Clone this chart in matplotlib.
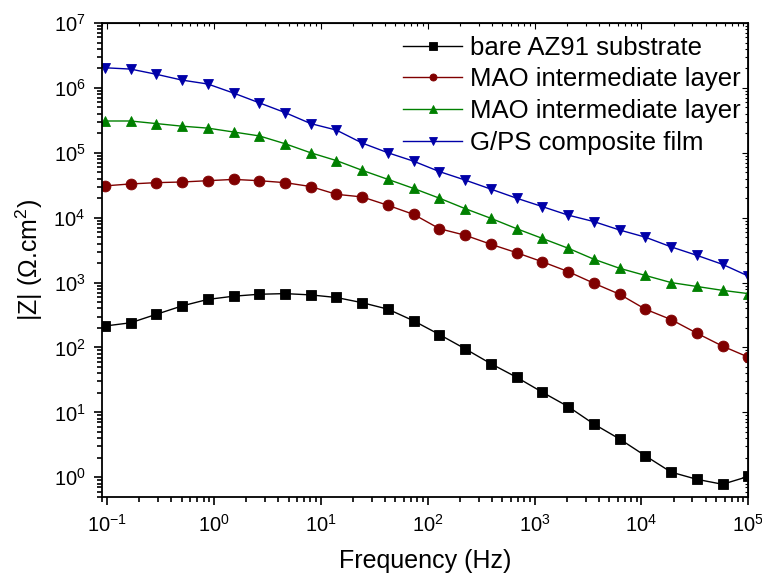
import matplotlib
matplotlib.use("Agg")
import matplotlib.pyplot as plt
import matplotlib.ticker as mticker

plt.rcParams["font.family"] = ["Liberation Sans", "DejaVu Sans"]
plt.rcParams["mathtext.fontset"] = "custom"
plt.rcParams["mathtext.rm"] = "Liberation Sans"
plt.rcParams["mathtext.it"] = "Liberation Sans:italic"
plt.rcParams["axes.unicode_minus"] = False

# frequency points (Hz), high to low
freq = [1.0e5, 5.74e4, 3.30e4, 1.897e4, 1.089e4, 6.25e3, 3.59e3, 2.06e3, 1.186e3,
        681, 391, 224, 129, 74.1, 42.6, 24.4, 14.0, 8.05, 4.63, 2.66, 1.53,
        0.877, 0.504, 0.289, 0.166, 0.0955]

# |Z| values (ohm.cm^2), same order as freq
z_bare = [1.03, 0.78, 0.93, 1.20, 2.14, 3.89, 6.61, 12.3, 20.4,
          34.7, 56.2, 95.5, 158, 257, 389, 490, 589, 646,
          676, 661, 617, 550, 437, 324, 240, 214]
z_mao1 = [71, 105, 166, 269, 389, 661, 977, 1479, 2089,
          2884, 3890, 5370, 6761, 11220, 15490, 20890, 22910, 30200,
          34670, 37150, 38900, 37150, 35480, 34670, 33110, 30900]
z_mao2 = [676, 759, 871, 1000, 1288, 1660, 2291, 3388, 4786,
          6761, 9772, 13800, 19950, 28180, 38900, 53700, 75860, 100000,
          138000, 182000, 209000, 240000, 257000, 282000, 309000, 309000]
z_gps = [1260, 1910, 2630, 3550, 5010, 6460, 8710, 10960, 14800,
         19950, 27540, 38020, 51290, 74130, 100000, 141300, 223900, 281800,
         416900, 588800, 831800, 1148000, 1318000, 1622000, 1950000, 2042000]

labels = ["bare AZ91 substrate", "MAO intermediate layer",
          "MAO intermediate layer", "G/PS composite film"]
colors = ["#000000", "#800000", "#008000", "#0000a8"]
markers = ["s", "o", "^", "v"]


def log_locators(axis):
    axis.set_major_locator(mticker.LogLocator(base=10, numticks=20))
    axis.set_minor_locator(mticker.LogLocator(base=10, subs=range(2, 10), numticks=20))


fig = plt.figure(figsize=(7.62, 5.75), dpi=100)
ax = fig.add_axes([0.134, 0.136, 0.848, 0.824])

for z, lab, c, m in zip([z_bare, z_mao1, z_mao2, z_gps], labels, colors, markers):
    ax.plot(freq, z, color=c, marker=m, markersize=7.8, linewidth=1.0,
            markeredgewidth=0.6, markeredgecolor=c, label=lab)

ax.set_xscale("log")
ax.set_yscale("log")
ax.set_xlim(0.09, 1.0e5)
ax.set_ylim(0.5, 1.0e7)

log_locators(ax.xaxis)
log_locators(ax.yaxis)
ax.xaxis.set_minor_formatter(mticker.NullFormatter())
ax.yaxis.set_minor_formatter(mticker.NullFormatter())

ax.tick_params(which="both", direction="out", top=False, right=False, width=1.2)
ax.tick_params(which="major", length=6, labelsize=14.5, pad=6)
ax.tick_params(which="minor", length=3.5)
for s in ax.spines.values():
    s.set_linewidth(1.3)

# Origin-style inner ticks on top and right
ax2 = ax.secondary_xaxis("top")
log_locators(ax2.xaxis)
ax2.tick_params(which="both", direction="in", labeltop=False, width=0.8)
ax2.tick_params(which="major", length=4)
ax2.tick_params(which="minor", length=2)
ay2 = ax.secondary_yaxis("right")
log_locators(ay2.yaxis)
ay2.tick_params(which="both", direction="in", labelright=False, width=0.8)
ay2.tick_params(which="major", length=4)
ay2.tick_params(which="minor", length=2)

ax.set_xlabel("Frequency (Hz)", fontsize=18, labelpad=10)
ax.set_ylabel(r"|Z| ($\Omega$.cm$^2$)", fontsize=18, labelpad=6)

ax.legend(loc="upper right", bbox_to_anchor=(1.012, 1.006), frameon=False,
          fontsize=18.5, markerscale=0.65, handlelength=2.3, handletextpad=0.3,
          labelspacing=0.3, borderaxespad=0.2)

fig.savefig("out.png", dpi=100)
